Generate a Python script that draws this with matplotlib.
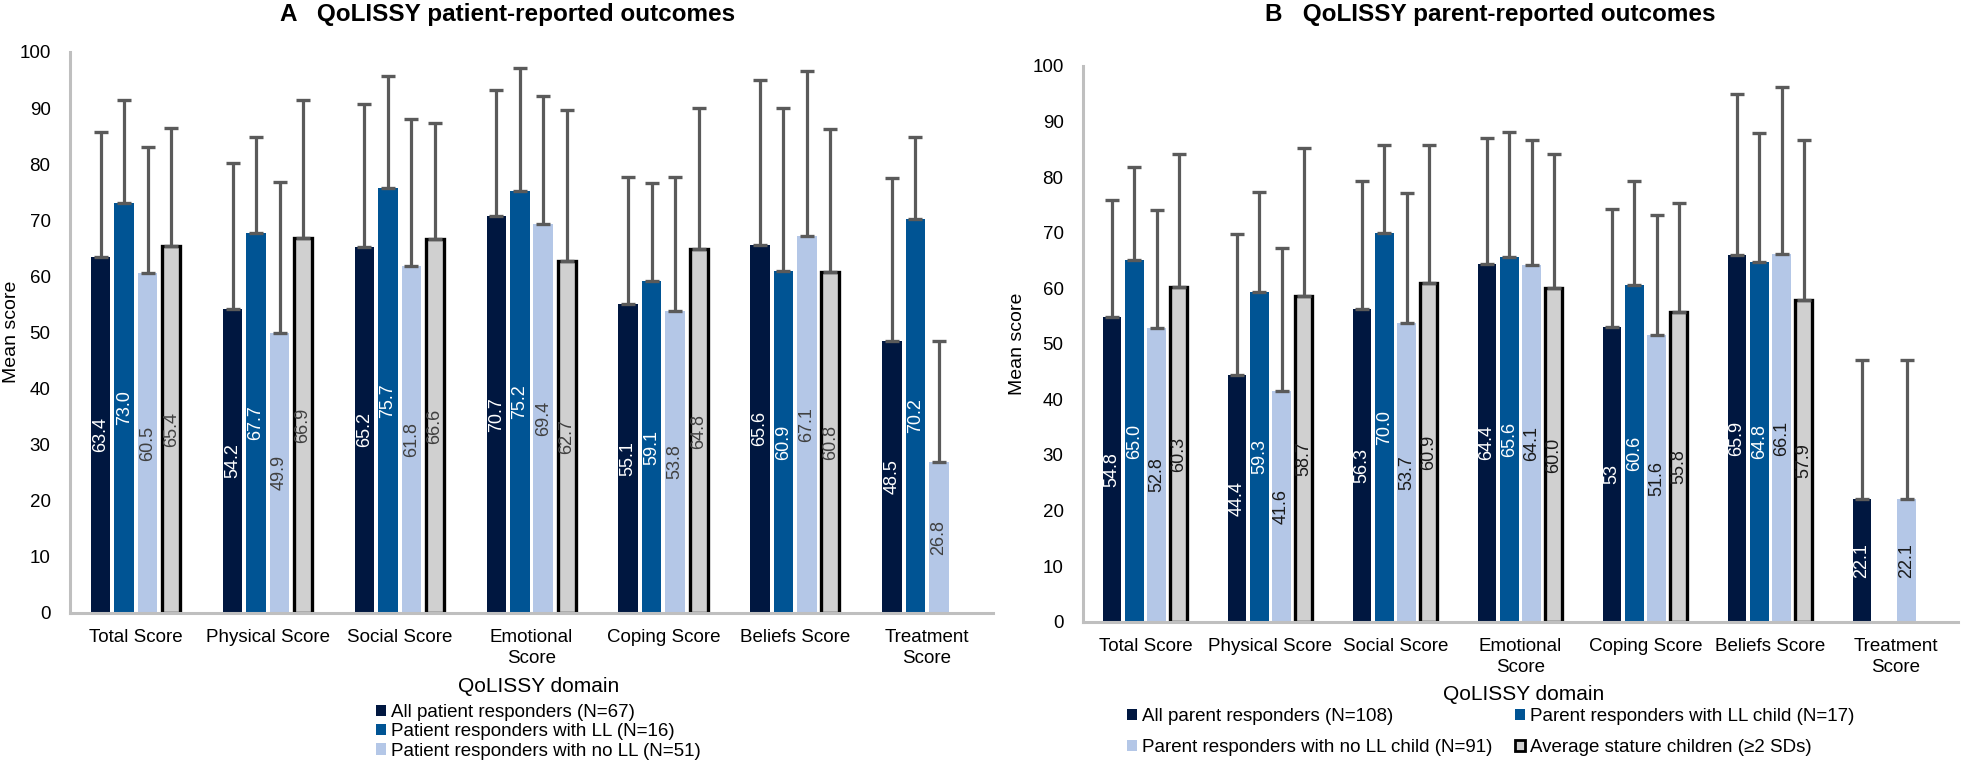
import matplotlib
matplotlib.use("Agg")
import matplotlib.pyplot as plt
import numpy as np
from matplotlib.patches import Patch

plt.rcParams['font.family'] = ['Liberation Sans', 'DejaVu Sans']

categories = ["Total Score", "Physical Score", "Social Score", "Emotional\nScore",
              "Coping Score", "Beliefs Score", "Treatment\nScore"]

# ---- Panel A: patient-reported ----
pat_all = [63.4, 54.2, 65.2, 70.7, 55.1, 65.6, 48.5]
pat_ll = [73.0, 67.7, 75.7, 75.2, 59.1, 60.9, 70.2]
pat_noll = [60.5, 49.9, 61.8, 69.4, 53.8, 67.1, 26.8]
pat_avg = [65.4, 66.9, 66.6, 62.7, 64.8, 60.8, None]
pat_all_upper = [85.7, 80.2, 90.7, 93.2, 77.7, 95.0, 77.6]
pat_ll_upper = [91.5, 84.8, 95.7, 97.1, 76.6, 90.1, 84.8]
pat_noll_upper = [83.0, 76.8, 88.0, 92.1, 77.7, 96.7, 48.5]
pat_avg_upper = [86.5, 91.5, 87.4, 89.7, 90.1, 86.3, None]

# ---- Panel B: parent-reported ----
par_all = [54.8, 44.4, 56.3, 64.4, 53, 65.9, 22.1]
par_ll = [65.0, 59.3, 70.0, 65.6, 60.6, 64.8, None]
par_noll = [52.8, 41.6, 53.7, 64.1, 51.6, 66.1, 22.1]
par_avg = [60.3, 58.7, 60.9, 60.0, 55.8, 57.9, None]
par_all_upper = [75.9, 69.7, 79.3, 87.1, 74.2, 94.9, 47.1]
par_ll_upper = [81.9, 77.3, 85.8, 88.1, 79.3, 87.9, None]
par_noll_upper = [74.1, 67.3, 77.1, 86.7, 73.1, 96.2, 47.1]
par_avg_upper = [84.2, 85.3, 85.7, 84.2, 75.4, 86.6, None]

pat_names = ["All patient responders (N=67)", "Patient responders with LL (N=16)",
             "Patient responders with no LL (N=51)"]
par_names = ["All parent responders (N=108)", "Parent responders with LL child (N=17)",
             "Parent responders with no LL child (N=91)", "Average stature children (\u22652 SDs)"]

C_DARK = "#001740"
C_BLUE = "#005494"
C_LIGHT = "#b4c7e7"
C_GRAY = "#d0d0d0"
fill_colors = [C_DARK, C_BLUE, C_LIGHT, C_GRAY]
edge_colors = [None, None, None, "black"]

W, H = 1961, 766
fig = plt.figure(figsize=(W / 100, H / 100), dpi=100)


def fmt(v):
    return str(v) if isinstance(v, int) else f"{v:.1f}"


def draw_panel(ax, series, uppers, text_colors):
    x = np.arange(len(categories))
    step, width = 0.178, 0.148
    for i, (vals, ups) in enumerate(zip(series, uppers)):
        off = (i - 1.5) * step
        idx = [j for j, v in enumerate(vals) if v is not None]
        xs = x[idx] + off
        hs = [vals[j] for j in idx]
        if edge_colors[i]:
            ax.bar(xs, hs, width=width - 0.012, color=fill_colors[i], edgecolor="black",
                   linewidth=2.4, zorder=2)
        else:
            ax.bar(xs, hs, width=width, color=fill_colors[i], linewidth=0, zorder=2)
        err = [ups[j] - vals[j] for j in idx]
        ax.errorbar(xs, hs, yerr=[np.zeros(len(err)), err], fmt="none", ecolor="#5a5a5a",
                    elinewidth=2.3, capsize=4.8, capthick=2.4, zorder=3)
        for xx, h in zip(xs, hs):
            ax.text(xx, h / 2, fmt(h), rotation=90, ha="center", va="center",
                    color=text_colors[i], fontsize=13, zorder=4)
    ax.set_xlim(-0.5, len(categories) - 0.5)
    ax.set_ylim(0, 100)
    ax.set_yticks(np.arange(0, 101, 10))
    ax.set_xticks(x)
    ax.set_xticklabels(categories, fontsize=13.5, linespacing=1.25)
    ax.tick_params(axis="both", length=0, labelsize=13.5)
    ax.tick_params(axis="x", pad=12)
    ax.tick_params(axis="y", pad=14)
    for s in ["top", "right"]:
        ax.spines[s].set_visible(False)
    for s in ["left", "bottom"]:
        ax.spines[s].set_color("#bfbfbf")
        ax.spines[s].set_linewidth(2.2)
        ax.spines[s].set_zorder(5)


# Left panel
axA = fig.add_axes([70 / W, 1 - 612.7 / H, (993 - 70) / W, (612.7 - 52) / H])
draw_panel(axA, [pat_all, pat_ll, pat_noll, pat_avg],
           [pat_all_upper, pat_ll_upper, pat_noll_upper, pat_avg_upper],
           ["white", "white", "#404040", "#404040"])

# Right panel
axB = fig.add_axes([1083 / W, 1 - 621.7 / H, (1958 - 1083) / W, (621.7 - 66) / H])
draw_panel(axB, [par_all, par_ll, par_noll, par_avg],
           [par_all_upper, par_ll_upper, par_noll_upper, par_avg_upper],
           ["white", "white", "#1a1a1a", "#1a1a1a"])

# Titles
fig.text(508 / W, 1 - 14 / H, "A   QoLISSY patient-reported outcomes", ha="center", va="center",
         fontsize=17.5, fontweight="bold")
fig.text(1490 / W, 1 - 14 / H, "B   QoLISSY parent-reported outcomes", ha="center", va="center",
         fontsize=17.5, fontweight="bold")

# Axis labels
fig.text(12 / W, 1 - 332 / H, "Mean score", rotation=90, ha="center", va="center", fontsize=14)
fig.text(1017 / W, 1 - 344 / H, "Mean score", rotation=90, ha="center", va="center", fontsize=14)
fig.text(539 / W, 1 - 686 / H, "QoLISSY domain", ha="center", va="center", fontsize=15)
fig.text(1524 / W, 1 - 695 / H, "QoLISSY domain", ha="center", va="center", fontsize=15)

# Legends
hA = [Patch(facecolor=fill_colors[i], edgecolor="none") for i in range(3)]
fig.legend(hA, pat_names, loc="upper left", bbox_to_anchor=(376 / W, 1 - 704 / H),
           frameon=False, fontsize=13.5, handlelength=0.55, handleheight=0.55,
           handletextpad=0.25, labelspacing=0.12, borderpad=0, borderaxespad=0)

hB = [Patch(facecolor=fill_colors[i], edgecolor="none") for i in range(3)]
hB.append(Patch(facecolor=C_GRAY, edgecolor="black", linewidth=2))
order = [0, 2, 1, 3]
fig.legend([hB[k] for k in order], [par_names[k] for k in order], loc="upper left",
           ncol=2, bbox_to_anchor=(1127 / W, 1 - 708 / H),
           frameon=False, fontsize=13.5, handlelength=0.55, handleheight=0.55,
           handletextpad=0.25, labelspacing=0.75, columnspacing=1.2,
           borderpad=0, borderaxespad=0)

fig.savefig("out.png", dpi=100)
